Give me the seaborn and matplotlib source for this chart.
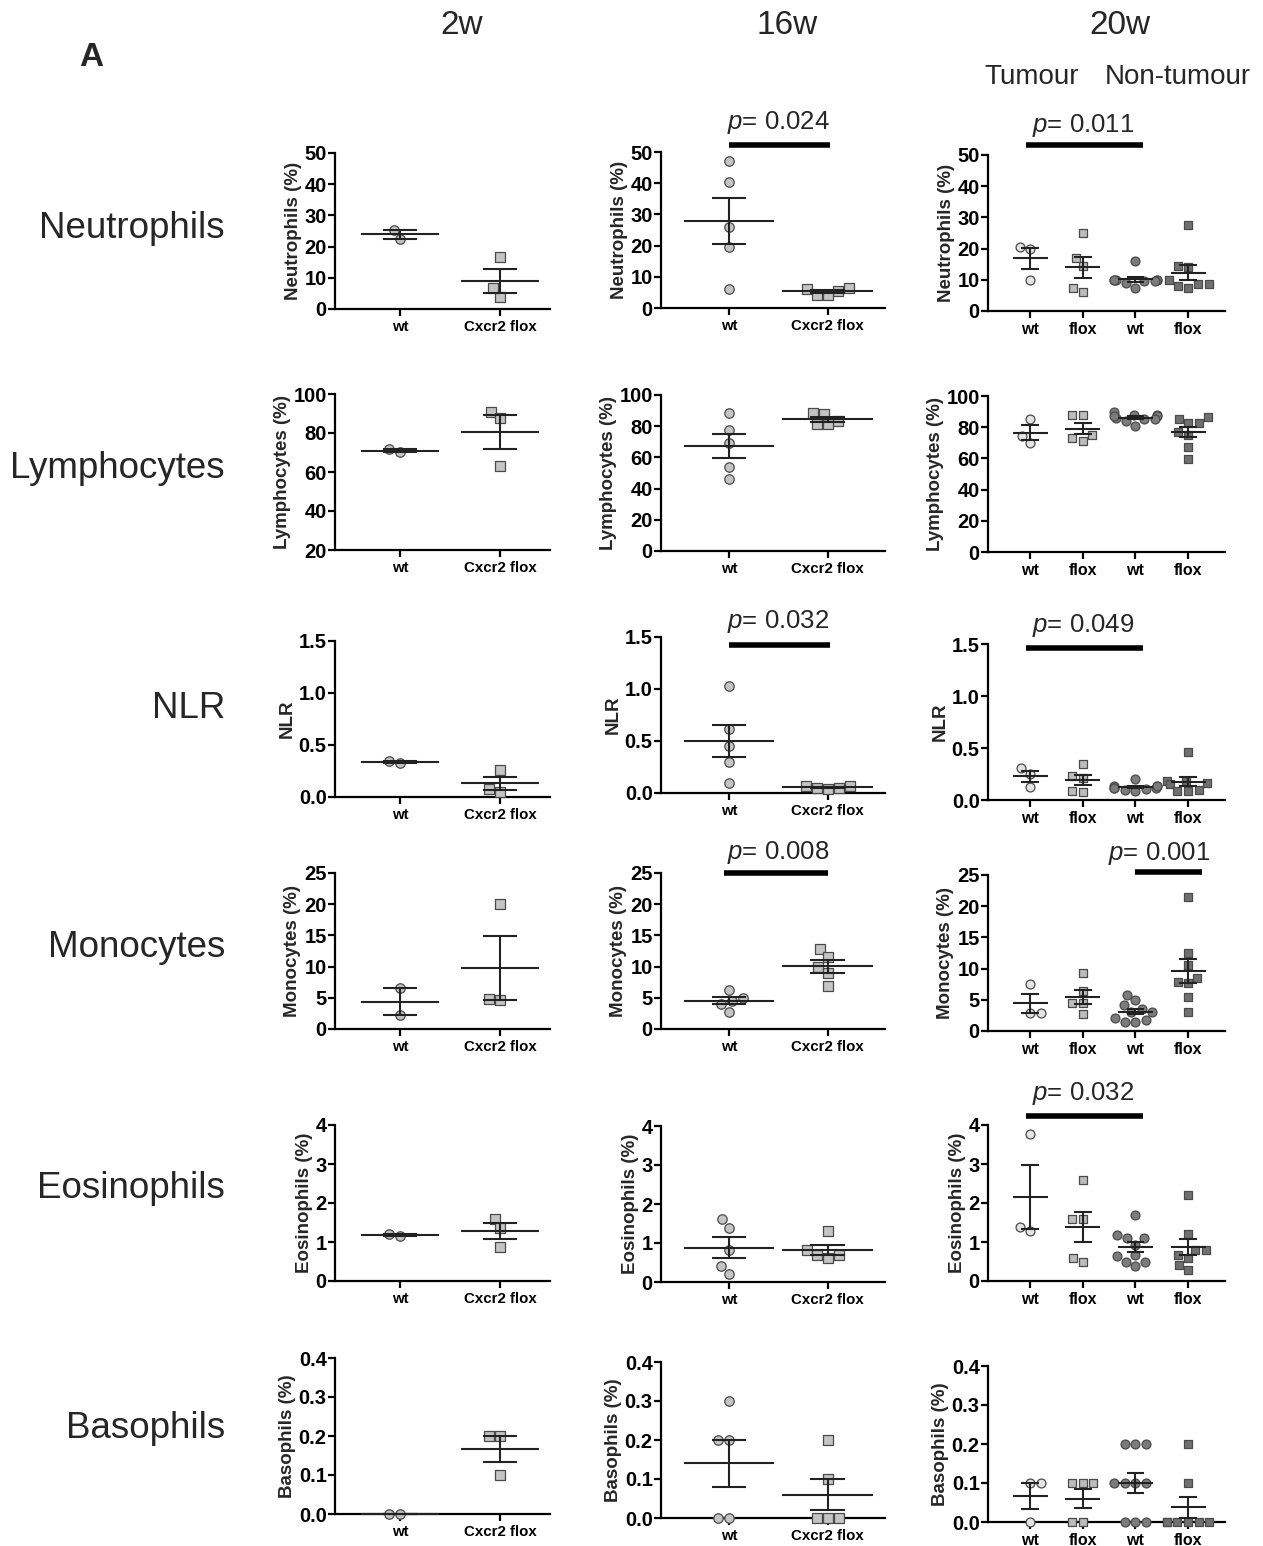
import numpy as np
import pandas as pd
import matplotlib.pyplot as plt
from matplotlib.ticker import FormatStrFormatter
import seaborn as sns

sns.set_theme(style="ticks")
plt.rcParams["font.family"] = ["Liberation Sans", "DejaVu Sans"]
plt.rcParams["mathtext.fontset"] = "custom"
plt.rcParams["mathtext.rm"] = "Liberation Sans"
plt.rcParams["mathtext.it"] = "Liberation Sans:italic"

# ---- data (one list per group) ----
groups_2 = ["wt", "Cxcr2 flox"]
groups_4 = ["T-wt", "T-flox", "NT-wt", "NT-flox"]
ticks_4 = ["wt", "flox", "wt", "flox"]
time_points = ["2w", "16w", "20w"]
cell_types = ["Neutrophils", "Lymphocytes", "NLR", "Monocytes", "Eosinophils", "Basophils"]
y_labels = ["Neutrophils (%)", "Lymphocytes (%)", "NLR", "Monocytes (%)", "Eosinophils (%)", "Basophils (%)"]

neut_2w = [[22.5, 25.3], [16.6, 4.0, 6.7]]
neut_16w = [[47.1, 40.3, 26.0, 19.4, 6.1], [6.4, 5.4, 4.3, 4.3, 6.1]]
neut_20w = [[20.5, 20.0, 10.0], [25.0, 17.0, 14.5, 7.5, 6.0],
            [16.0, 10.0, 10.0, 10.0, 9.5, 9.5, 10.0, 10.0, 9.0, 7.5],
            [27.5, 14.5, 14.0, 10.0, 8.5, 8.5, 8.0, 7.5]]

lymph_2w = [[70.3, 71.6], [90.6, 87.5, 63.0]]
lymph_16w = [[88.6, 77.4, 69.2, 53.8, 46.2], [88.2, 83.4, 81.3, 81.3, 87.7]]
lymph_20w = [[85.5, 74.2, 69.9], [88.0, 88.0, 75.0, 71.4, 73.0],
             [90.0, 88.0, 88.0, 87.0, 86.0, 85.0, 85.0, 84.0, 87.0, 81.0],
             [86.6, 85.5, 82.7, 82.9, 74.7, 76.8, 67.5, 59.5]]

nlr_2w = [[0.33, 0.35], [0.26, 0.08, 0.05]]
nlr_16w = [[1.03, 0.62, 0.45, 0.30, 0.10], [0.07, 0.05, 0.04, 0.05, 0.07]]
nlr_20w = [[0.305, 0.25, 0.123], [0.35, 0.23, 0.214, 0.084, 0.075],
           [0.20, 0.13, 0.13, 0.12, 0.12, 0.12, 0.11, 0.10, 0.09, 0.13],
           [0.463, 0.18, 0.18, 0.165, 0.15, 0.10, 0.085, 0.085]]

mono_2w = [[6.6, 2.2], [20.0, 4.6, 4.8]]
mono_16w = [[6.2, 5.0, 4.5, 4.0, 2.8], [12.8, 11.5, 9.9, 9.0, 6.9]]
mono_20w = [[7.56, 2.86, 2.86], [9.3, 6.4, 4.5, 4.5, 2.75],
            [5.8, 4.9, 4.1, 3.5, 3.0, 3.1, 2.05, 1.8, 1.5, 1.5],
            [21.4, 12.5, 10.6, 8.5, 7.8, 7.7, 5.4, 3.1]]

eos_2w = [[1.15, 1.2], [1.6, 1.35, 0.88]]
eos_16w = [[1.61, 1.39, 0.81, 0.40, 0.21], [1.31, 0.69, 0.62, 0.69, 0.81]]
eos_20w = [[3.78, 1.39, 1.29], [2.6, 1.6, 1.6, 0.6, 0.5],
           [1.68, 1.19, 1.1, 1.1, 0.93, 0.67, 0.5, 0.5, 0.39, 0.63],
           [2.2, 1.21, 0.79, 0.79, 0.67, 0.6, 0.41, 0.29]]

baso_2w = [[0.0, 0.0], [0.2, 0.2, 0.1]]
baso_16w = [[0.3, 0.2, 0.2, 0.0, 0.0], [0.2, 0.1, 0.0, 0.0, 0.0]]
baso_20w = [[0.1, 0.1, 0.0], [0.1, 0.1, 0.1, 0.0, 0.0],
            [0.2, 0.2, 0.2, 0.1, 0.1, 0.1, 0.1, 0.0, 0.0, 0.0],
            [0.2, 0.1, 0.0, 0.0, 0.0, 0.0, 0.0, 0.0]]

# p-value annotations: (row, col, x from, x to, text)
p_values = [(0, 1, 0.0, 1.02, "0.024"), (0, 2, -0.07, 2.15, "0.011"),
            (2, 1, 0.0, 1.02, "0.032"), (2, 2, -0.07, 2.15, "0.049"),
            (3, 1, -0.05, 1.0, "0.008"), (3, 2, 2.0, 3.27, "0.001"),
            (4, 2, -0.07, 2.15, "0.032")]

panel_data = [[neut_2w, neut_16w, neut_20w], [lymph_2w, lymph_16w, lymph_20w],
              [nlr_2w, nlr_16w, nlr_20w], [mono_2w, mono_16w, mono_20w],
              [eos_2w, eos_16w, eos_20w], [baso_2w, baso_16w, baso_20w]]

y_ranges = [(0, 50, 10), (0, 100, 20), (0, 1.5, 0.5), (0, 25, 5), (0, 4, 1), (0, 0.4, 0.1)]
y_formats = ["%d", "%d", "%.1f", "%d", "%d", "%.1f"]

# ---- layout (pixels of the 1263x1546 picture) ----
W, H = 1263, 1546
col_left = [335, 661, 988]
col_width = [215, 224, 237]
col_xlim = [(-0.65, 1.5), (-0.69, 1.58), (-0.8, 3.7)]
row_top = [[153, 152, 155], [394, 395, 396], [641, 637, 644],
           [873, 873, 875], [1125, 1126, 1125], [1358, 1362, 1366]]
ax_h = 156
mean_half = [0.39, 0.46, 0.33]
sem_half = [0.17, 0.175, 0.17]
dot_size = [6.8, 6.8, 6.4]

light = "#c4c4c4"
pal_2 = {"wt": light, "Cxcr2 flox": light}
pal_4 = {"T-wt": "#e4e4e4", "T-flox": "#bcbcbc", "NT-wt": "#7c7c7c", "NT-flox": "#707070"}
line_c = "#222222"

fig = plt.figure(figsize=(W / 100, H / 100), dpi=100)
axes = {}

for r in range(6):
    for c in range(3):
        values = panel_data[r][c]
        names = groups_2 if c < 2 else groups_4
        pal = pal_2 if c < 2 else pal_4
        top = row_top[r][c]
        ax = fig.add_axes([col_left[c] / W, 1 - (top + ax_h) / H, col_width[c] / W, ax_h / H])
        axes[(r, c)] = ax

        for i, (g, v) in enumerate(zip(names, values)):
            df = pd.DataFrame({"pos": np.full(len(v), i), "value": v})
            sns.swarmplot(data=df, x="pos", y="value", native_scale=True, orient="x",
                          marker="o" if g.endswith("wt") else "s", color=pal[g],
                          size=dot_size[c], edgecolor="#4a4a4a", linewidth=0.9, warn_thresh=1,
                          ax=ax, clip_on=False, zorder=3)

            # mean +/- SEM
            v = np.asarray(v)
            m = v.mean()
            se = v.std(ddof=1) / np.sqrt(len(v))
            ax.hlines(m, i - mean_half[c], i + mean_half[c], color=line_c, lw=1.5, zorder=4, clip_on=False)
            ax.hlines([m - se, m + se], i - sem_half[c], i + sem_half[c], color=line_c, lw=1.5, zorder=4, clip_on=False)
            ax.vlines(i, m - se, m + se, color=line_c, lw=1.5, zorder=4, clip_on=False)

        lo, hi, step = y_ranges[r]
        if r == 1 and c == 0:
            lo = 20
        ax.set_ylim(lo, hi)
        ax.set_yticks(np.arange(lo, hi + step / 2, step))
        ax.yaxis.set_major_formatter(FormatStrFormatter(y_formats[r]))
        ax.set_xlim(*col_xlim[c])
        ax.set_xticks(range(len(names)))
        ax.set_xticklabels(groups_2 if c < 2 else ticks_4)
        ax.set_xlabel("")
        ax.set_ylabel(y_labels[r], fontsize=13.5, fontweight="bold", labelpad=2)
        sns.despine(ax=ax)
        for s in ("left", "bottom"):
            ax.spines[s].set_linewidth(1.6)
            ax.spines[s].set_color("black")
        ax.tick_params(axis="y", length=5, width=1.6, pad=1, labelsize=14.5, colors="black")
        ax.tick_params(axis="x", length=5, width=1.6, pad=3, labelsize=10.8 if c < 2 else 11.5, colors="black")
        for t in ax.get_yticklabels() + ax.get_xticklabels():
            t.set_fontweight("bold")

# significance bars
bar_y = {(0, 1): (1.045, 1.19), (0, 2): (1.064, 1.19), (2, 1): (0.949, 1.10),
         (2, 2): (0.974, 1.12), (3, 1): (1.0, 1.13), (3, 2): (1.02, 1.14), (4, 2): (1.058, 1.20)}
for r, c, x0, x1, txt in p_values:
    ax = axes[(r, c)]
    yb, yt = bar_y[(r, c)]
    tr = ax.get_xaxis_transform()
    ax.plot([x0, x1], [yb, yb], color="black", lw=4, transform=tr, clip_on=False, solid_capstyle="butt")
    xc = 0.5 if c == 1 else (1.0 if x0 < 1 else 2.45)
    ax.text(xc, yt, "$p$= " + txt, transform=tr, ha="center", va="center", fontsize=18.5)

# row labels, column headers
row_centres = [228, 468, 708, 948, 1188, 1428]
for name, y in zip(cell_types, row_centres):
    fig.text(225 / W, 1 - y / H, name, ha="right", va="center", fontsize=26.5)
for tp, x in zip(time_points, [462, 787, 1120]):
    fig.text(x / W, 1 - 25 / H, tp, ha="center", va="center", fontsize=24)
fig.text(1032 / W, 1 - 77 / H, "Tumour", ha="center", va="center", fontsize=20)
fig.text(1178 / W, 1 - 77 / H, "Non-tumour", ha="center", va="center", fontsize=20)
fig.text(91 / W, 1 - 58 / H, "A", ha="center", va="center", fontsize=24, fontweight="bold")

fig.savefig("out.png", dpi=100)
